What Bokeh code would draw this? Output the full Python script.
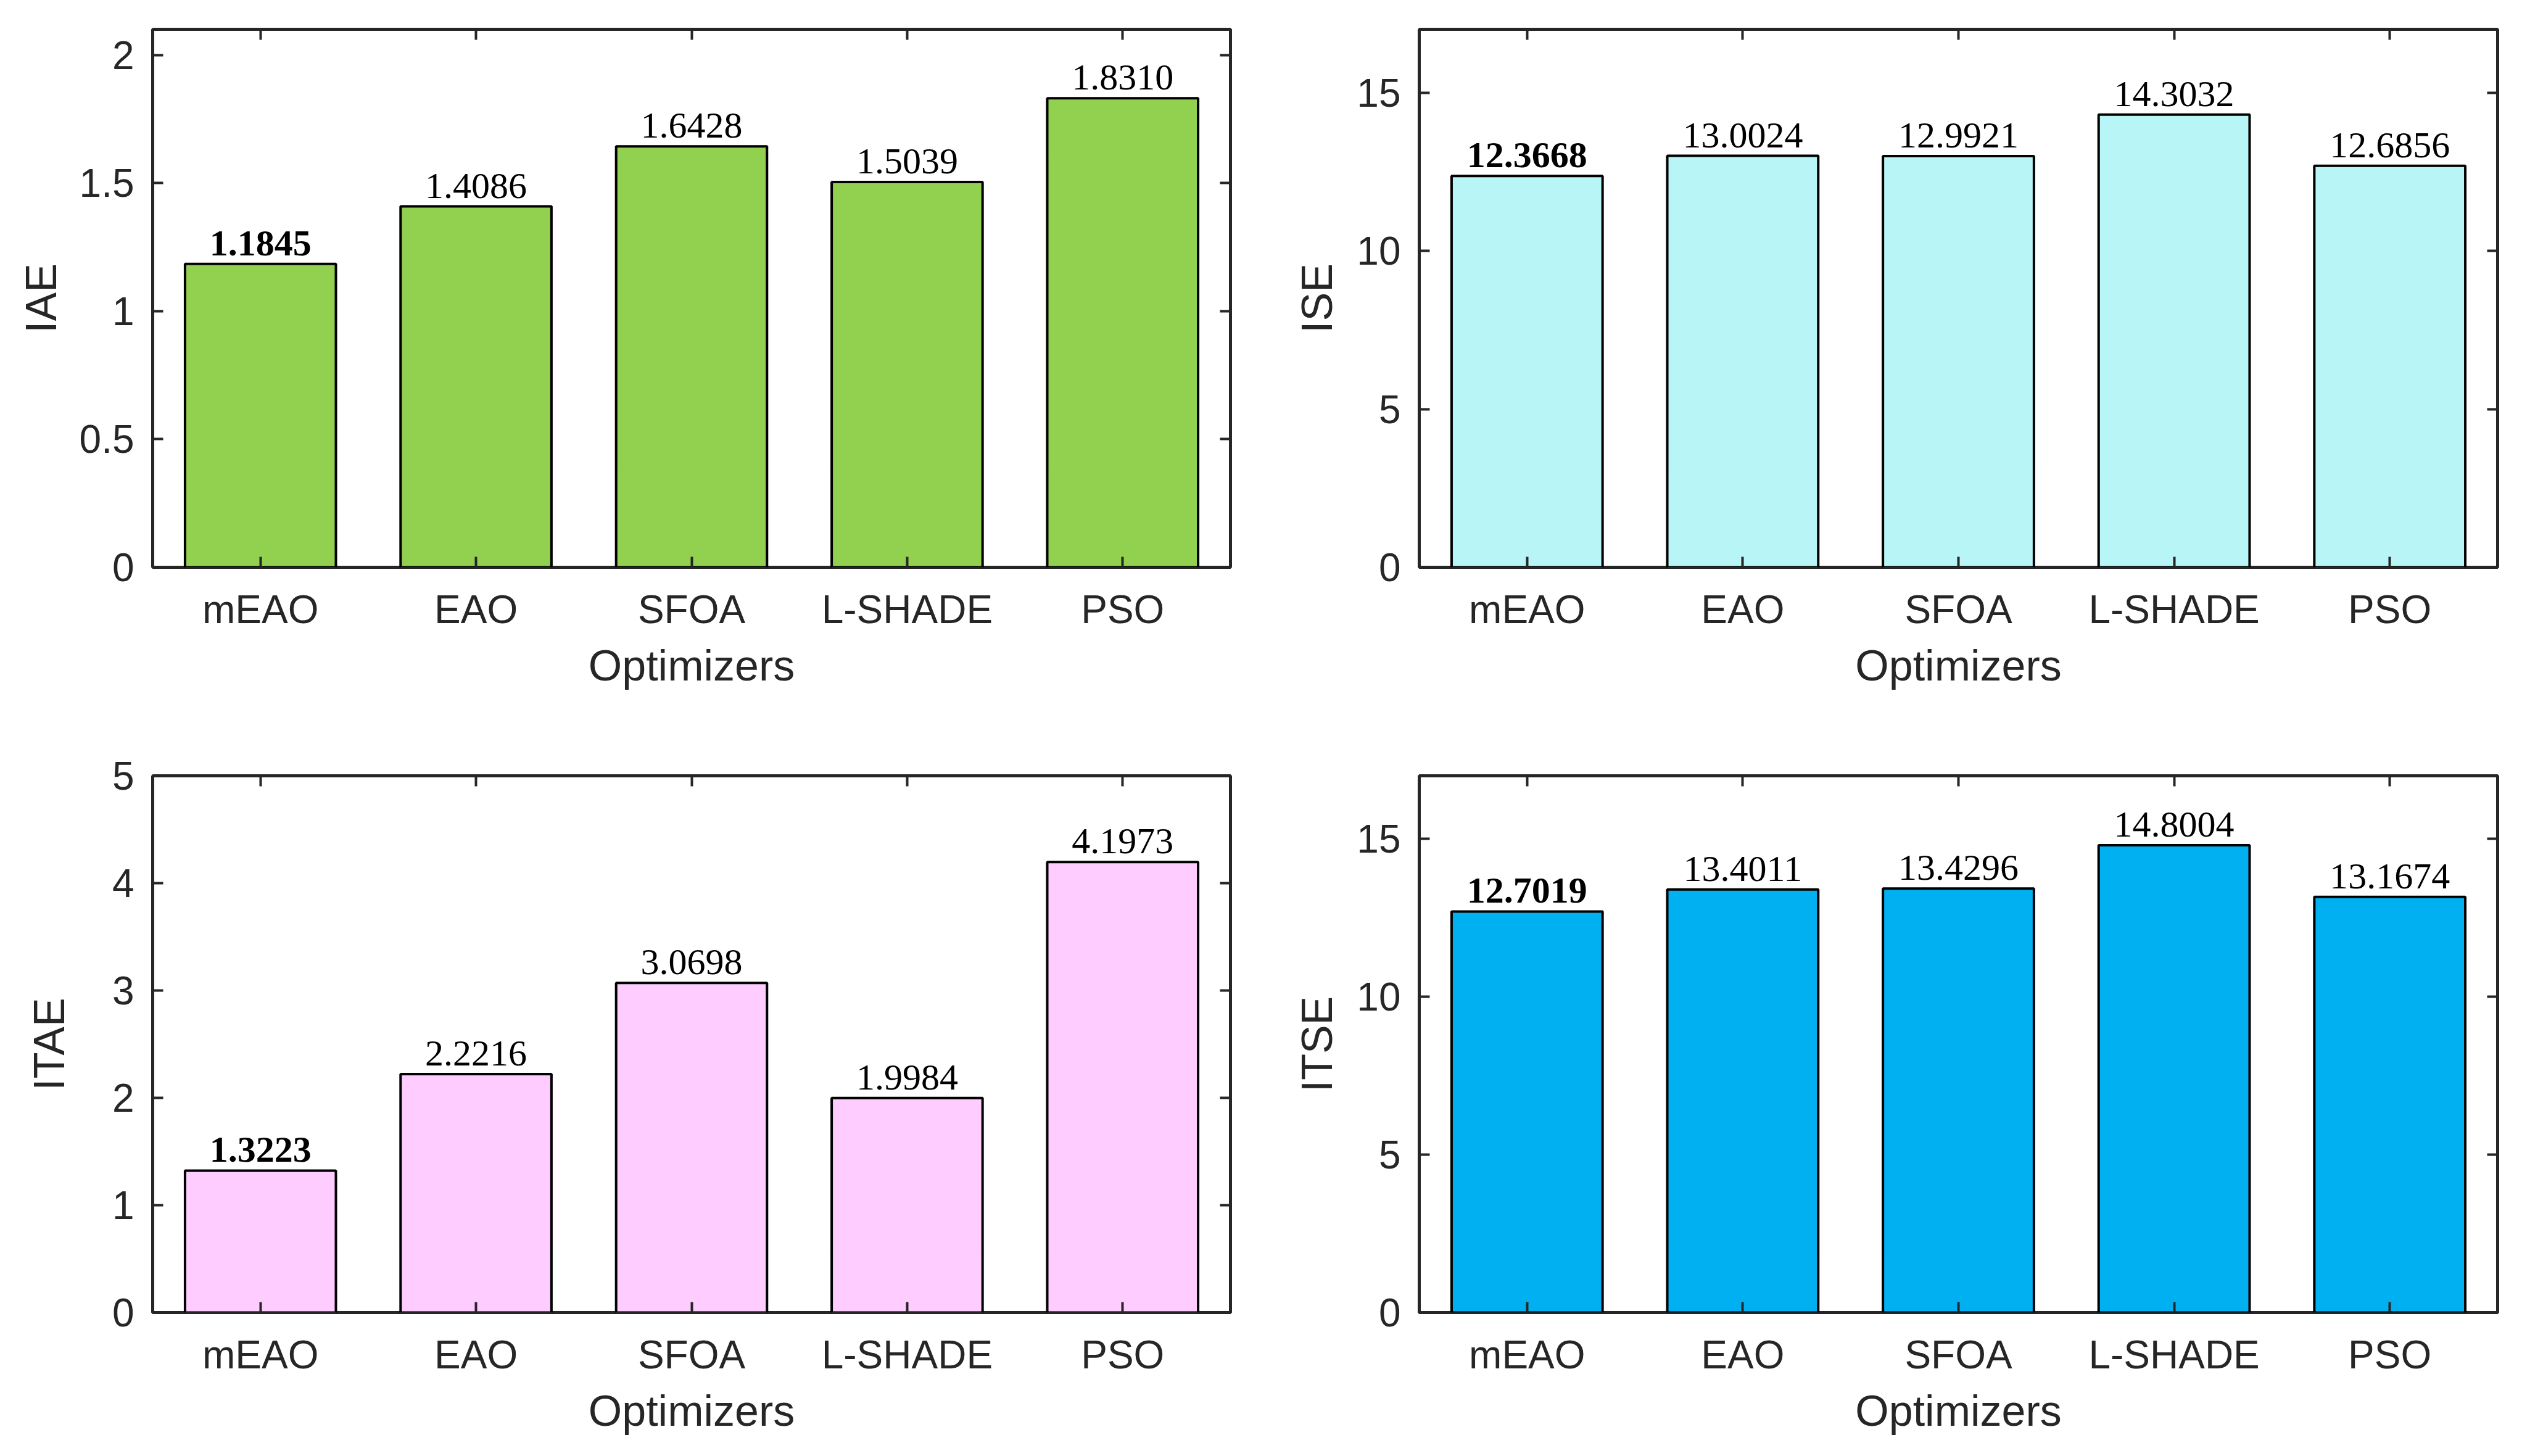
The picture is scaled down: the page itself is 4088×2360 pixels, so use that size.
from bokeh.plotting import figure
from bokeh.layouts import gridplot
from bokeh.models import (ColumnDataSource, FactorRange, Range1d, FixedTicker,
                          LinearAxis, CategoricalAxis, CustomJSTickFormatter)
from bokeh.core.properties import value
from bokeh.embed import file_html
from bokeh.resources import INLINE

optimizers = ["mEAO", "EAO", "SFOA", "L-SHADE", "PSO"]
iae = [1.1845, 1.4086, 1.6428, 1.5039, 1.8310]
ise = [12.3668, 13.0024, 12.9921, 14.3032, 12.6856]
itae = [1.3223, 2.2216, 3.0698, 1.9984, 4.1973]
itse = [12.7019, 13.4011, 13.4296, 14.8004, 13.1674]

iae_ticks = [0, 0.5, 1, 1.5, 2]
ise_ticks = [0, 5, 10, 15]
itae_ticks = [0, 1, 2, 3, 4, 5]
itse_ticks = [0, 5, 10, 15]

AX = "#262626"
SANS = "Liberation Sans"
SERIF = "Liberation Serif"


def make(vals, ylabel, ymax, ticks, color, w, h, bl, br, bt, bb, ylab_standoff):
    p = figure(x_range=FactorRange(factors=optimizers), y_range=Range1d(0, ymax),
               width=w, height=h, output_backend="svg", toolbar_location=None,
               min_border_left=bl, min_border_right=br, min_border_top=bt,
               min_border_bottom=bb)
    p.grid.visible = False
    p.background_fill_color = "white"
    p.border_fill_color = "white"
    p.outline_line_color = AX
    p.outline_line_width = 5

    src = ColumnDataSource(dict(
        x=optimizers, top=vals,
        label=[f"{v:.4f}" for v in vals],
        style=["bold"] + ["normal"] * (len(vals) - 1),
    ))
    p.vbar(x="x", top="top", width=0.7, bottom=0, source=src,
           fill_color=color, line_color="black", line_width=4)
    p.text(x="x", y="top", text="label", source=src,
           text_font=value(SERIF), text_font_size="60px",
           text_font_style="style", text_align="center",
           text_baseline="bottom", y_offset=-14, text_color="black")

    # bottom axis
    xa = p.xaxis[0]
    xa.axis_line_color = None
    xa.major_tick_in = 17
    xa.major_tick_out = 0
    xa.major_tick_line_color = AX
    xa.major_tick_line_width = 4
    xa.minor_tick_line_color = None
    xa.major_label_text_font = SANS
    xa.major_label_text_font_size = "64px"
    xa.major_label_text_color = AX
    xa.major_label_standoff = 32
    xa.axis_label = "Optimizers"
    xa.axis_label_text_font = SANS
    xa.axis_label_text_font_size = "70px"
    xa.axis_label_text_font_style = "normal"
    xa.axis_label_text_color = AX
    xa.axis_label_standoff = 13

    ya = p.yaxis[0]
    ya.ticker = FixedTicker(ticks=ticks)
    ya.formatter = CustomJSTickFormatter(code="return tick.toString();")
    ya.axis_line_color = None
    ya.major_tick_in = 17
    ya.major_tick_out = 0
    ya.major_tick_line_color = AX
    ya.major_tick_line_width = 4
    ya.minor_tick_line_color = None
    ya.major_label_text_font = SANS
    ya.major_label_text_font_size = "64px"
    ya.major_label_text_color = AX
    ya.major_label_standoff = 30
    ya.axis_label = ylabel
    ya.axis_label_text_font = SANS
    ya.axis_label_text_font_size = "70px"
    ya.axis_label_text_font_style = "normal"
    ya.axis_label_text_color = AX
    ya.axis_label_standoff = ylab_standoff

    blank = CustomJSTickFormatter(code="return '';")
    ra = LinearAxis(ticker=FixedTicker(ticks=ticks), formatter=blank,
                    axis_line_color=None, major_tick_in=17, major_tick_out=0,
                    major_tick_line_color=AX, major_tick_line_width=4,
                    minor_tick_line_color=None, major_label_standoff=0)
    p.add_layout(ra, "right")
    ta = CategoricalAxis(formatter=blank, axis_line_color=None,
                         major_tick_in=17, major_tick_out=0,
                         major_tick_line_color=AX, major_tick_line_width=4,
                         minor_tick_line_color=None, major_label_standoff=0)
    p.add_layout(ta, "above")
    return p


W, H = 2036, 1172
p1 = make(iae, "IAE", 2.1, iae_ticks, "#92D050", W, H, 247, 42, 47, 253, 20)
p2 = make(ise, "ISE", 17, ise_ticks, "#B7F5F7", W, H, 264, 24, 47, 253, 22)
p3 = make(itae, "ITAE", 5, itae_ticks, "#FFCCFF", W, H, 247, 42, 85, 217, 60)
p4 = make(itse, "ITSE", 17, itse_ticks, "#00B0F0", W, H, 264, 24, 85, 217, 22)

grid = gridplot([[p1, p2], [p3, p4]], toolbar_location=None)
open("out.html", "w").write(file_html(grid, INLINE))
